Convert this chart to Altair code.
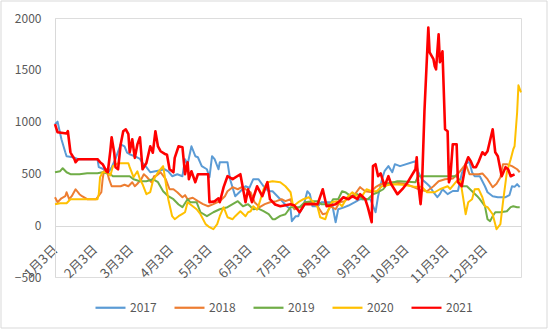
import altair as alt
import pandas as pd

years = ["2017", "2018", "2019", "2020", "2021"]
colors = ["#5B9BD5", "#ED7D31", "#70AD47", "#FFC000", "#FF0000"]

# x ticks: days since 1月3日
tick_days = [0, 31, 59, 90, 120, 151, 181, 212, 243, 273, 304, 334]
tick_labels = ["1月3日", "2月3日", "3月3日", "4月3日", "5月3日", "6月3日",
               "7月3日", "8月3日", "9月3日", "10月3日", "11月3日", "12月3日"]
y_ticks = [-500, 0, 500, 1000, 1500, 2000]

d2017 = [0, 2, 5, 8, 9, 14, 18, 33, 34, 38, 41, 44, 47, 51, 54, 56, 58, 63, 66, 68, 71, 74, 78, 82, 85, 88, 91, 95, 99,
         101, 103, 106, 109, 111, 114, 118, 120, 122, 124, 127, 128, 134, 136, 140, 144, 148, 151, 154, 158, 162, 166,
         169, 175, 180, 183, 184, 187, 189, 190, 193, 196, 198, 200, 204, 207, 215, 218, 220, 224, 228, 233, 237, 245,
         249, 251, 254, 256, 259, 262, 264, 268, 280, 282, 285, 289, 291, 294, 297, 299, 301, 305, 309, 313, 316, 319,
         321, 322, 324, 326, 330, 334, 336, 340, 344, 350, 353, 355, 357, 359, 361]
v2017 = [975, 1000, 830, 704, 666, 656, 637, 637, 560, 540, 500, 560, 640, 780, 760, 700, 685, 660, 640, 600, 560, 511,
         520, 530, 540, 520, 473, 492, 473, 637, 589, 762, 666, 656, 570, 540, 463, 666, 637, 540, 608, 608, 444, 280,
         328, 376, 360, 444, 444, 376, 328, 328, 251, 183, 154, 39, 87, 87, 120, 183, 328, 299, 183, 183, 222, 222, 29,
         154, 170, 190, 222, 251, 251, 125, 280, 444, 521, 570, 511, 589, 570, 618, 520, 444, 400, 376, 318, 270, 300,
         347, 300, 330, 330, 500, 589, 608, 608, 511, 473, 473, 376, 318, 280, 270, 270, 290, 376, 370, 396, 367]

d2018 = [0, 2, 5, 8, 9, 11, 13, 16, 19, 21, 25, 32, 36, 37, 38, 40, 42, 44, 51, 54, 57, 60, 62, 64, 67, 69, 71, 75, 77,
         79, 82, 86, 89, 92, 95, 99, 101, 103, 107, 111, 115, 119, 123, 128, 132, 134, 138, 142, 145, 148, 152, 155,
         159, 163, 167, 172, 176, 179, 183, 184, 186, 190, 194, 200, 204, 208, 211, 214, 218, 221, 225, 229, 233, 237,
         241, 245, 249, 253, 262, 272, 280, 284, 289, 294, 298, 303, 309, 314, 319, 322, 329, 332, 336, 340, 343, 346,
         348, 351, 355, 359, 361]
v2018 = [270, 222, 260, 280, 318, 251, 280, 347, 299, 280, 251, 251, 318, 444, 521, 540, 444, 376, 376, 390, 376, 415,
         376, 400, 444, 492, 470, 415, 473, 480, 511, 444, 347, 347, 318, 270, 290, 251, 265, 232, 203, 183, 203, 232,
         280, 328, 367, 347, 367, 347, 318, 222, 174, 203, 222, 232, 251, 232, 251, 203, 154, 174, 203, 222, 183, 106,
         115, 183, 154, 222, 232, 270, 299, 367, 328, 320, 367, 396, 415, 400, 360, 340, 328, 376, 425, 444, 450, 511,
         589, 492, 492, 500, 444, 367, 400, 463, 589, 589, 570, 540, 511]

d2019 = [0, 4, 6, 9, 12, 19, 25, 33, 37, 43, 45, 51, 58, 61, 66, 71, 76, 80, 84, 88, 92, 96, 99, 103, 105, 110, 113, 118,
         123, 128, 134, 138, 142, 146, 150, 154, 158, 162, 166, 169, 171, 175, 179, 183, 190, 194, 200, 204, 207, 214,
         216, 220, 223, 226, 231, 235, 239, 243, 247, 251, 255, 258, 266, 268, 280, 282, 312, 315, 316, 320, 324, 328,
         330, 334, 336, 338, 340, 342, 346, 351, 354, 356, 359, 361]
v2019 = [511, 521, 550, 511, 492, 492, 502, 502, 511, 492, 473, 473, 473, 444, 425, 425, 444, 415, 328, 280, 251, 200,
         174, 251, 222, 222, 125, 87, 125, 154, 174, 203, 232, 183, 203, 154, 160, 135, 106, 58, 58, 90, 106, 174, 174,
         222, 232, 232, 203, 203, 251, 251, 328, 315, 270, 299, 251, 251, 299, 318, 347, 396, 425, 425, 415, 473, 473,
         420, 376, 376, 328, 280, 251, 183, 58, 39, 87, 125, 125, 135, 174, 183, 174, 174]

d2020 = [0, 4, 9, 12, 33, 34, 35, 37, 40, 43, 45, 49, 57, 58, 61, 64, 66, 68, 71, 74, 76, 80, 84, 85, 88, 91, 93, 96, 99,
         101, 103, 107, 110, 113, 117, 120, 123, 126, 128, 131, 134, 138, 140, 144, 148, 150, 152, 154, 157, 159, 162,
         165, 169, 175, 179, 183, 185, 189, 193, 197, 200, 204, 206, 210, 212, 215, 219, 223, 227, 231, 235, 239, 242,
         246, 250, 254, 262, 270, 280, 285, 289, 295, 299, 305, 307, 312, 315, 317, 319, 321, 324, 326, 329, 332, 334,
         336, 340, 342, 343, 346, 348, 351, 354, 356, 357, 359, 360, 362]
v2020 = [203, 212, 212, 251, 251, 299, 463, 511, 511, 480, 570, 598, 598, 560, 463, 521, 444, 396, 299, 320, 425, 511,
         570, 492, 251, 87, 58, 87, 110, 125, 222, 183, 154, 106, 10, -19, -39, 10, 87, 174, 77, 58, 87, 135, 87, 125,
         135, 183, 150, 222, 347, 415, 425, 415, 376, 318, 183, 222, 251, 270, 232, 174, 77, 58, 135, 222, 232, 183,
         270, 318, 280, 290, 347, 328, 328, 376, 396, 390, 370, 370, 318, 318, 347, 376, 350, 425, 425, 270, 106, 222,
         250, 347, 350, 270, 183, 174, 106, 10, -39, 10, 222, 511, 637, 733, 762, 1090, 1350, 1283]

d2021 = [0, 2, 9, 10, 12, 13, 15, 16, 18, 33, 35, 37, 40, 41, 43, 44, 46, 47, 49, 51, 53, 55, 57, 58, 60, 62, 64, 66, 68,
         71, 74, 76, 78, 80, 82, 85, 87, 89, 92, 93, 96, 99, 101, 103, 104, 106, 109, 111, 119, 120, 124, 127, 128, 131,
         134, 138, 144, 148, 150, 153, 157, 161, 165, 167, 171, 175, 183, 186, 190, 194, 204, 208, 211, 218, 220, 224,
         228, 231, 235, 237, 241, 243, 246, 247, 249, 251, 253, 256, 259, 261, 266, 270, 274, 280, 281, 282, 284, 285,
         287, 290, 291, 294, 295, 296, 298, 299, 301, 303, 305, 306, 307, 309, 312, 313, 316, 319, 321, 323, 325, 327,
         329, 332, 334, 336, 340, 342, 344, 347, 350, 352, 354, 357]
v2021 = [975, 897, 885, 907, 704, 680, 640, 608, 637, 637, 608, 589, 520, 511, 720, 849, 700, 560, 540, 780, 907, 926,
         880, 704, 830, 650, 780, 849, 540, 600, 762, 700, 907, 760, 714, 690, 680, 540, 511, 650, 762, 753, 492, 608,
         444, 521, 415, 492, 492, 222, 230, 260, 222, 367, 473, 444, 492, 222, 347, 222, 376, 280, 415, 251, 200, 183,
         203, 190, 125, 203, 203, 347, 183, 203, 220, 270, 250, 280, 251, 299, 251, 174, 29, 570, 589, 473, 500, 376,
         473, 400, 299, 350, 415, 540, 656, 420, 203, 350, 1100, 1908, 1669, 1602, 1535, 1505, 1843, 1573, 1679, 926,
         907, 415, 450, 782, 782, 415, 376, 589, 656, 618, 560, 560, 610, 704, 680, 714, 926, 704, 666, 473, 560, 540,
         473, 490]

rows = []
for yr, ds, vs in [("2017", d2017, v2017), ("2018", d2018, v2018), ("2019", d2019, v2019),
                   ("2020", d2020, v2020), ("2021", d2021, v2021)]:
    for d, v in zip(ds, vs):
        rows.append({"year": yr, "day": d, "value": v})
df = pd.DataFrame(rows)

label_expr = "[" + ",".join("'%s'" % t for t in tick_labels) + "][indexof([" + \
    ",".join(str(t) for t in tick_days) + "], datum.value)]"

font = "Noto Sans CJK SC"
grey = "#595959"

lines = alt.Chart(df).mark_line(strokeJoin="round").encode(
    x=alt.X("day:Q", scale=alt.Scale(domain=[0, 362], nice=False, zero=False),
            axis=alt.Axis(values=tick_days, labelExpr=label_expr, labelAngle=-45,
                          labelAlign="right", labelBaseline="middle", offset=-51,
                          domainColor="#D9D9D9", ticks=False, grid=False, title=None,
                          labelFlush=False, labelOverlap=False, labelPadding=21,
                          labelFontSize=13, labelColor=grey, labelFont=font)),
    y=alt.Y("value:Q", scale=alt.Scale(domain=[-500, 2000], nice=False),
            axis=alt.Axis(values=y_ticks, format="d", grid=False, ticks=False, domainColor="#D9D9D9",
                          labelColor=grey, labelFontSize=12, labelPadding=14, title=None,
                          labelFont=font)),
    color=alt.Color("year:N", scale=alt.Scale(domain=years, range=colors),
                    legend=alt.Legend(title=None, orient="none", legendX=39, legendY=273,
                                      direction="horizontal", symbolType="stroke",
                                      symbolSize=900, symbolStrokeWidth=2.2,
                                      labelFontSize=12, labelColor=grey, labelFont=font,
                                      columnPadding=13, labelOffset=3)),
    strokeWidth=alt.condition("datum.year == '2021'", alt.value(2.6), alt.value(2)),
    order=alt.Order("day:Q"),
)

frame = alt.Chart(pd.DataFrame({"k": [0]})).mark_rect(
    fillOpacity=0, stroke="#D9D9D9", strokeWidth=1
).encode(x=alt.value(-54), x2=alt.value(492), y=alt.value(-17), y2=alt.value(310))

chart = alt.layer(frame, lines).properties(
    width=466, height=259,
    autosize=alt.AutoSizeParams(type="none"),
    padding={"left": 55, "top": 18, "right": 29, "bottom": 53},
).configure_view(stroke=None).configure(background="white")

chart.save("out.html", embed_options={"renderer": "svg", "actions": False})
